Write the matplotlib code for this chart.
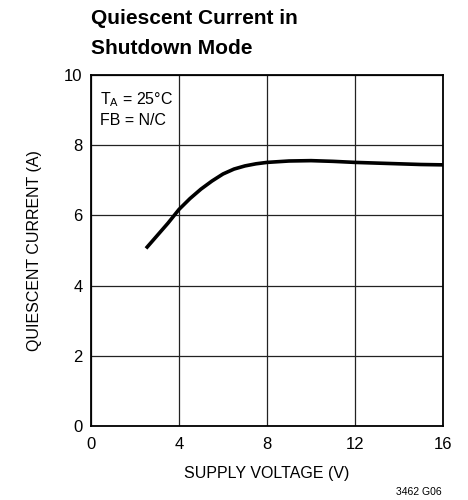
import matplotlib
matplotlib.use("Agg")
import matplotlib.pyplot as plt

plt.rcParams['font.family'] = ['Liberation Sans', 'DejaVu Sans']
plt.rcParams['mathtext.fontset'] = 'custom'
plt.rcParams['mathtext.rm'] = 'Liberation Sans'

supply_voltage = [2.5, 3.0, 3.5, 4.0, 4.5, 5.0, 5.5, 6.0, 6.5, 7.0, 7.5, 8.0,
                  9.0, 10.0, 11.0, 12.0, 13.0, 14.0, 15.0, 16.0]
quiescent_current = [5.06, 5.42, 5.78, 6.17, 6.48, 6.75, 6.98, 7.18, 7.32, 7.41,
                     7.47, 7.51, 7.55, 7.56, 7.54, 7.51, 7.49, 7.47, 7.45, 7.44]
x_ticks = [0, 4, 8, 12, 16]
y_ticks = [0, 2, 4, 6, 8, 10]

fig = plt.figure(figsize=(4.68, 5.0), dpi=100)
ax = fig.add_axes([91/468, 1-426/500, (443-91)/468, (426-75)/500])

ax.plot(supply_voltage, quiescent_current, color='black', lw=2.6, solid_capstyle='butt')
ax.set_xlim(0, 16)
ax.set_ylim(0, 10)
ax.set_xticks(x_ticks)
ax.set_yticks(y_ticks)
ax.tick_params(length=0, labelsize=12)
ax.tick_params(axis='x', pad=8)
ax.tick_params(axis='y', pad=6)
ax.grid(True, color='#222222', lw=0.9)
for s in ax.spines.values():
    s.set_linewidth(1.3)

ax.set_xlabel('SUPPLY VOLTAGE (V)', fontsize=11.5, labelpad=10)
ax.set_ylabel('QUIESCENT CURRENT (A)', fontsize=11.5, labelpad=16)

ax.text(0.41, 9.17, r'T$_\mathrm{A}$ = 25°C', fontsize=11.5, va='baseline', ha='left')
ax.text(0.41, 8.58, 'FB = N/C', fontsize=11.5, va='baseline', ha='left')

fig.text(91/468, 1-9/500, 'Quiescent Current in\nShutdown Mode', fontsize=15,
         fontweight='bold', ha='left', va='top', linespacing=1.75,
         multialignment='left')
fig.text(442/468, 1-492/500, '3462 G06', fontsize=7.5, ha='right', va='center')

fig.savefig('out.png', dpi=100)
